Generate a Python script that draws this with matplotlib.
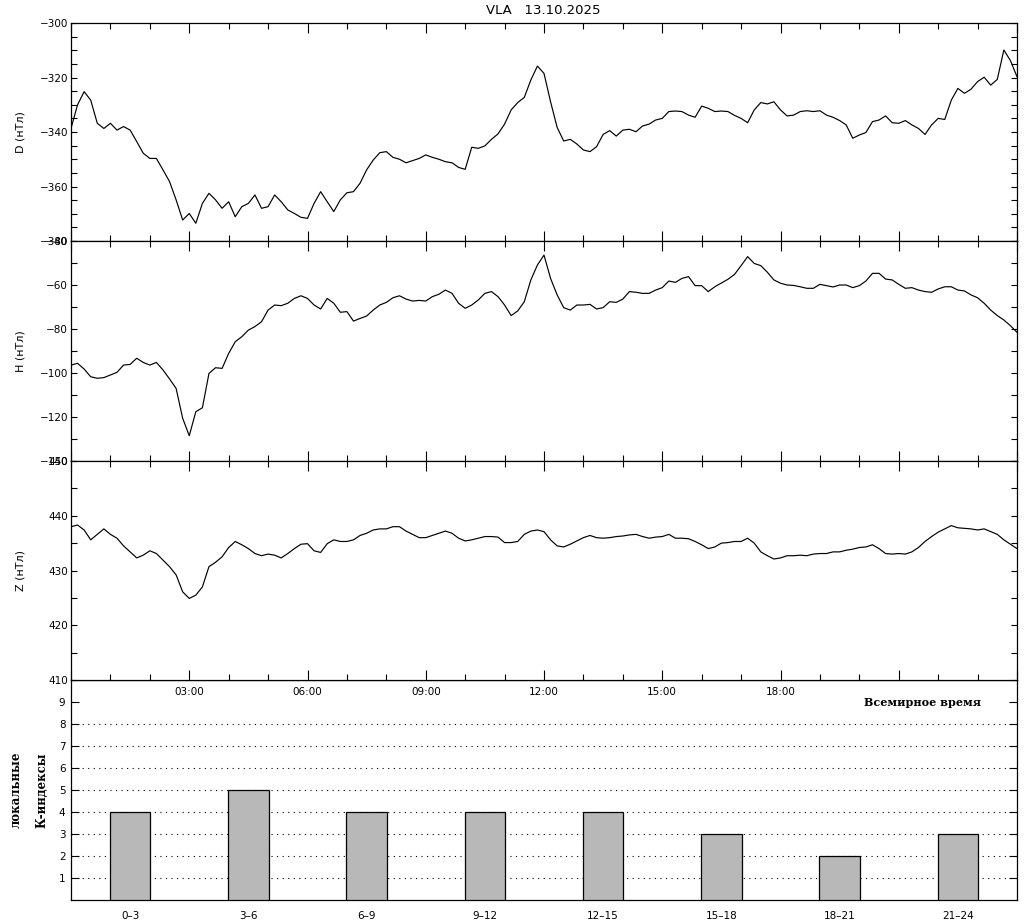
import numpy as np
import matplotlib
matplotlib.use("Agg")
import matplotlib.pyplot as plt
from matplotlib.ticker import MultipleLocator, FixedLocator

# ---------------- data ----------------
title = "VLA   13.10.2025"
hours = np.arange(145) / 6.0   # 10-minute samples, 00:00 .. 24:00

d_values = [
    -338.7, -330.0, -325.2, -328.3, -336.8, -338.7, -336.8, -339.3, -338.0, -339.3,
    -343.5, -347.8, -349.7, -349.7, -353.9, -358.2, -364.9, -372.3, -369.9, -373.5,
    -366.2, -362.5, -364.9, -368.0, -365.6, -371.1, -367.4, -366.2, -363.1, -368.0,
    -367.4, -363.1, -365.6, -368.6, -369.9, -371.3, -371.7, -366.2, -361.9, -365.6,
    -369.2, -364.9, -362.3, -361.9, -358.8, -353.9, -350.3, -347.6, -347.2, -349.3,
    -350.0, -351.3, -350.5, -349.7, -348.4, -349.3, -350.0, -350.9, -351.3, -353.0,
    -353.7, -345.6, -346.0, -345.1, -342.7, -340.7, -337.1, -331.9, -329.2, -327.3,
    -320.9, -315.8, -318.5, -328.9, -338.3, -343.3, -342.7, -344.4, -346.6, -347.2,
    -345.4, -340.9, -339.5, -341.5, -339.3, -339.0, -339.9, -337.8, -337.1, -335.6,
    -335.0, -332.5, -332.3, -332.5, -333.8, -334.6, -330.5, -331.3, -332.5, -332.3,
    -332.5, -333.9, -335.0, -336.6, -331.9, -329.2, -329.7, -328.9, -331.9, -334.1,
    -333.8, -332.5, -332.2, -332.5, -332.2, -333.8, -334.6, -335.8, -337.4, -342.3,
    -341.1, -340.2, -336.2, -335.6, -334.1, -336.6, -336.8, -335.8, -337.4, -338.7,
    -340.9, -337.4, -335.0, -335.4, -328.3, -324.0, -325.8, -324.3, -321.5, -319.9,
    -322.8, -320.7, -309.9, -313.8, -319.7,
]

h_values = [
    -96.4, -95.6, -98.2, -101.7, -102.4, -102.1, -100.9, -99.7, -96.4, -96.1,
    -93.3, -95.2, -96.4, -95.2, -98.6, -102.7, -107.0, -120.6, -128.5, -117.6,
    -115.8, -100.2, -97.6, -97.9, -91.1, -85.8, -83.5, -80.5, -78.9, -76.7,
    -71.4, -69.1, -69.4, -68.3, -66.1, -64.9, -66.1, -69.1, -70.9, -66.1,
    -68.3, -72.4, -72.1, -76.4, -75.2, -74.1, -71.4, -69.1, -67.9, -65.8,
    -64.9, -66.4, -67.3, -67.0, -67.3, -65.3, -64.2, -62.3, -63.8, -68.3,
    -70.6, -69.1, -66.8, -63.8, -63.0, -65.3, -69.1, -73.9, -71.8, -67.6,
    -57.7, -50.9, -46.4, -57.0, -64.5, -70.3, -71.4, -69.1, -69.1, -68.8,
    -70.9, -70.3, -67.6, -67.9, -66.4, -63.0, -63.3, -63.8, -63.8, -62.3,
    -61.2, -58.2, -58.8, -57.0, -56.2, -60.3, -60.3, -63.0, -60.8, -59.1,
    -57.4, -55.2, -51.2, -47.1, -50.2, -51.2, -54.2, -57.7, -59.2, -60.0,
    -60.2, -60.8, -61.5, -61.5, -59.7, -60.3, -60.9, -60.0, -60.0, -61.2,
    -60.3, -58.2, -54.7, -54.7, -57.3, -57.7, -59.7, -61.5, -61.2, -62.3,
    -63.0, -63.3, -61.8, -60.8, -60.8, -62.3, -62.7, -64.5, -65.8, -68.3,
    -71.4, -73.9, -75.9, -78.5, -81.5,
]

z_values = [
    438.0, 438.3, 437.4, 435.6, 436.6, 437.6, 436.6, 435.9, 434.5, 433.4,
    432.3, 432.8, 433.6, 433.1, 431.9, 430.7, 429.2, 426.1, 424.9, 425.5,
    427.0, 430.7, 431.5, 432.5, 434.2, 435.3, 434.7, 434.0, 433.1, 432.7,
    433.0, 432.8, 432.3, 433.1, 434.0, 434.8, 434.9, 433.6, 433.3, 434.9,
    435.6, 435.3, 435.3, 435.6, 436.4, 436.8, 437.4, 437.6, 437.6, 438.0,
    438.0, 437.2, 436.6, 436.0, 436.0, 436.4, 436.8, 437.2, 436.8, 435.9,
    435.4, 435.6, 435.9, 436.2, 436.2, 436.1, 435.1, 435.1, 435.3, 436.6,
    437.2, 437.4, 437.1, 435.6, 434.5, 434.3, 434.8, 435.4, 436.0, 436.4,
    436.0, 435.9, 436.0, 436.2, 436.3, 436.5, 436.6, 436.2, 435.9, 436.1,
    436.2, 436.6, 435.9, 435.9, 435.8, 435.3, 434.7, 434.0, 434.3, 435.0,
    435.1, 435.3, 435.3, 435.9, 435.0, 433.4, 432.7, 432.1, 432.3, 432.7,
    432.7, 432.8, 432.7, 433.0, 433.1, 433.1, 433.4, 433.4, 433.7, 433.9,
    434.2, 434.3, 434.7, 434.0, 433.1, 433.0, 433.1, 433.0, 433.4, 434.2,
    435.3, 436.2, 437.0, 437.6, 438.2, 437.8, 437.7, 437.6, 437.4, 437.6,
    437.1, 436.6, 435.6, 434.8, 434.0,
]

k_intervals = ["0–3", "3–6", "6–9", "9–12", "12–15", "15–18", "18–21", "21–24"]
k_values = [4, 5, 4, 4, 4, 3, 2, 3]
k_centers = [1.5, 4.5, 7.5, 10.5, 13.5, 16.5, 19.5, 22.5]

hour_labels = ["03:00", "06:00", "09:00", "12:00", "15:00", "18:00"]
hour_label_pos = [3, 6, 9, 12, 15, 18]

# ---------------- figure ----------------
plt.rcParams["font.family"] = ["DejaVu Sans"]
fig = plt.figure(figsize=(10.24, 9.21), dpi=100)
W, H = 1024.0, 921.0
left = 71 / W
width = (1017 - 71) / W

def panel(top, bottom):
    return fig.add_axes([left, 1 - bottom / H, width, (bottom - top) / H])

ax1 = panel(23, 241)
ax2 = panel(241, 461)
ax3 = panel(461, 680)
ax4 = panel(680, 900)
ax4.patch.set_visible(False)
ax3.set_zorder(2)
ax4.set_zorder(1)

lw = 0.85
tick_fs = 7.5

def style_time_axis(ax, ylim, major, minor, label):
    ax.set_xlim(0, 24)
    ax.set_ylim(*ylim)
    ax.xaxis.set_major_locator(MultipleLocator(3))
    ax.xaxis.set_minor_locator(MultipleLocator(1))
    ax.yaxis.set_major_locator(MultipleLocator(major))
    ax.yaxis.set_minor_locator(MultipleLocator(minor))
    ax.tick_params(axis="x", which="major", direction="in", length=7.5, width=0.8,
                   top=True, bottom=True, labelbottom=False)
    ax.tick_params(axis="x", which="minor", direction="in", length=4, width=0.8,
                   top=True, bottom=True)
    ax.tick_params(axis="y", which="both", direction="in", length=4.5, width=0.8,
                   left=True, right=True, labelsize=tick_fs, pad=2)
    for s in ax.spines.values():
        s.set_linewidth(0.9)
    ax.set_ylabel(label, fontsize=8)
    ax.yaxis.set_label_coords(-0.048, 0.5)

ax1.plot(hours, d_values, color="black", lw=lw)
style_time_axis(ax1, (-380, -300), 20, 5, "D (нТл)")
ax2.plot(hours, h_values, color="black", lw=lw)
style_time_axis(ax2, (-140, -40), 20, 10, "H (нТл)")
ax3.plot(hours, z_values, color="black", lw=lw)
style_time_axis(ax3, (410, 450), 10, 5, "Z (нТл)")

ax3.set_xticks(hour_label_pos + [0, 21, 24])
ax3.set_xticklabels(hour_labels + ["", "", ""])
ax3.tick_params(axis="x", which="major", labelbottom=True, labelsize=tick_fs, pad=5)

# K-index panel
ax4.bar(k_centers, k_values, width=1.03, color="#b8b8b8", edgecolor="black", linewidth=0.9, zorder=3)
ax4.set_xlim(0, 24)
ax4.set_ylim(0, 10)
ax4.set_xticks([])
ax4.yaxis.set_major_locator(FixedLocator(list(range(1, 10))))
ax4.tick_params(axis="y", which="major", direction="in", length=6, width=0.8,
                left=True, right=True, labelsize=tick_fs, pad=4)
for s in ax4.spines.values():
    s.set_linewidth(0.9)
for g in range(1, 9):
    ax4.axhline(g, color="black", lw=0.8, linestyle=(0, (1, 4)), zorder=1)
for c, lab in zip(k_centers, k_intervals):
    ax4.text(c, -0.72, lab, ha="center", va="center", fontsize=tick_fs, clip_on=False)
ax4.text(21.6, 9.0, "Всемирное время", ha="center", va="center",
         fontsize=8, family="DejaVu Serif", fontweight="bold")

fig.text(16 / W, 1 - 790 / H, "локальные", rotation=90, ha="center", va="center",
         fontsize=8.5, family="DejaVu Serif", fontweight="bold")
fig.text(42 / W, 1 - 790 / H, "К-индексы", rotation=90, ha="center", va="center",
         fontsize=8.5, family="DejaVu Serif", fontweight="bold")

fig.text(543 / W, 1 - 11 / H, title, ha="center", va="center", fontsize=9.5)

fig.savefig("out.png", dpi=100)
